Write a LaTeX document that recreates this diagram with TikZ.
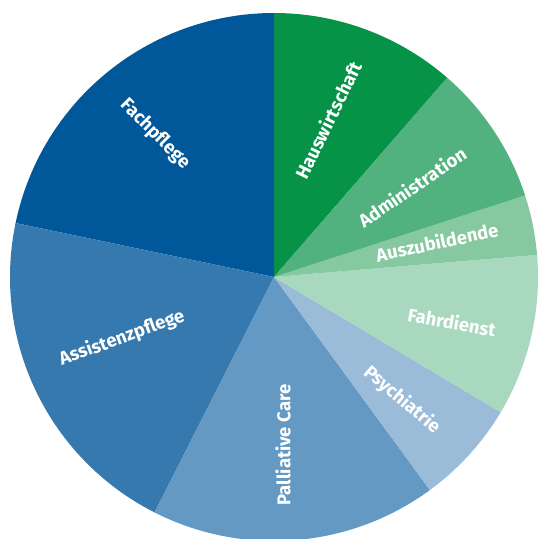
\documentclass[tikz,border=0pt]{standalone}
\usepackage{fontspec}
\setmainfont{Fira Sans}
\definecolor{cFach}{HTML}{00589B}
\definecolor{cAssist}{HTML}{3579AF}
\definecolor{cPall}{HTML}{6399C3}
\definecolor{cPsych}{HTML}{9ABCD9}
\definecolor{cFahr}{HTML}{A8D8BD}
\definecolor{cAzubi}{HTML}{86C9A0}
\definecolor{cAdmin}{HTML}{52B27F}
\definecolor{cHaus}{HTML}{079347}
\begin{document}
\begin{tikzpicture}[x=1pt,y=1pt,
  lbl/.style={text=white,font=\bfseries\fontsize{18.5}{18.5}\selectfont,inner sep=0pt}]
\useasboundingbox (0,0) rectangle (538,539);
\coordinate (c) at (274,262);
\def\R{264}
\foreach \a/\b/\col in {49/90/cHaus, 90/168.2/cFach, 168.2/243.1/cAssist, 243.1/306.2/cPall, 306.2/329.2/cPsych, 329.2/364.8/cFahr, 4.8/18/cAzubi, 18/49/cAdmin}{
  \fill[\col] (c) -- ++(\a:\R) arc[start angle=\a, end angle=\b, radius=\R] -- cycle;
}
\node[lbl,rotate=64] (haus) at (328,419) {Hauswirtschaft};
\node[lbl,rotate=34] (admin) at (412,352) {Administration};
\node[lbl,rotate=12] (azubi) at (437,297) {Auszubildende};
\node[lbl,rotate=-10] (fahr) at (452,217) {Fahrdienst};
\node[lbl,rotate=-40] (psych) at (402,139) {Psychiatrie};
\node[lbl,rotate=90] (pall) at (283,94) {Palliative Care};
\node[lbl,rotate=20] (assist) at (122,201) {Assistenzpflege};
\node[lbl,rotate=-45] (fach) at (155,405) {Fachpflege};
\end{tikzpicture}
\end{document}
